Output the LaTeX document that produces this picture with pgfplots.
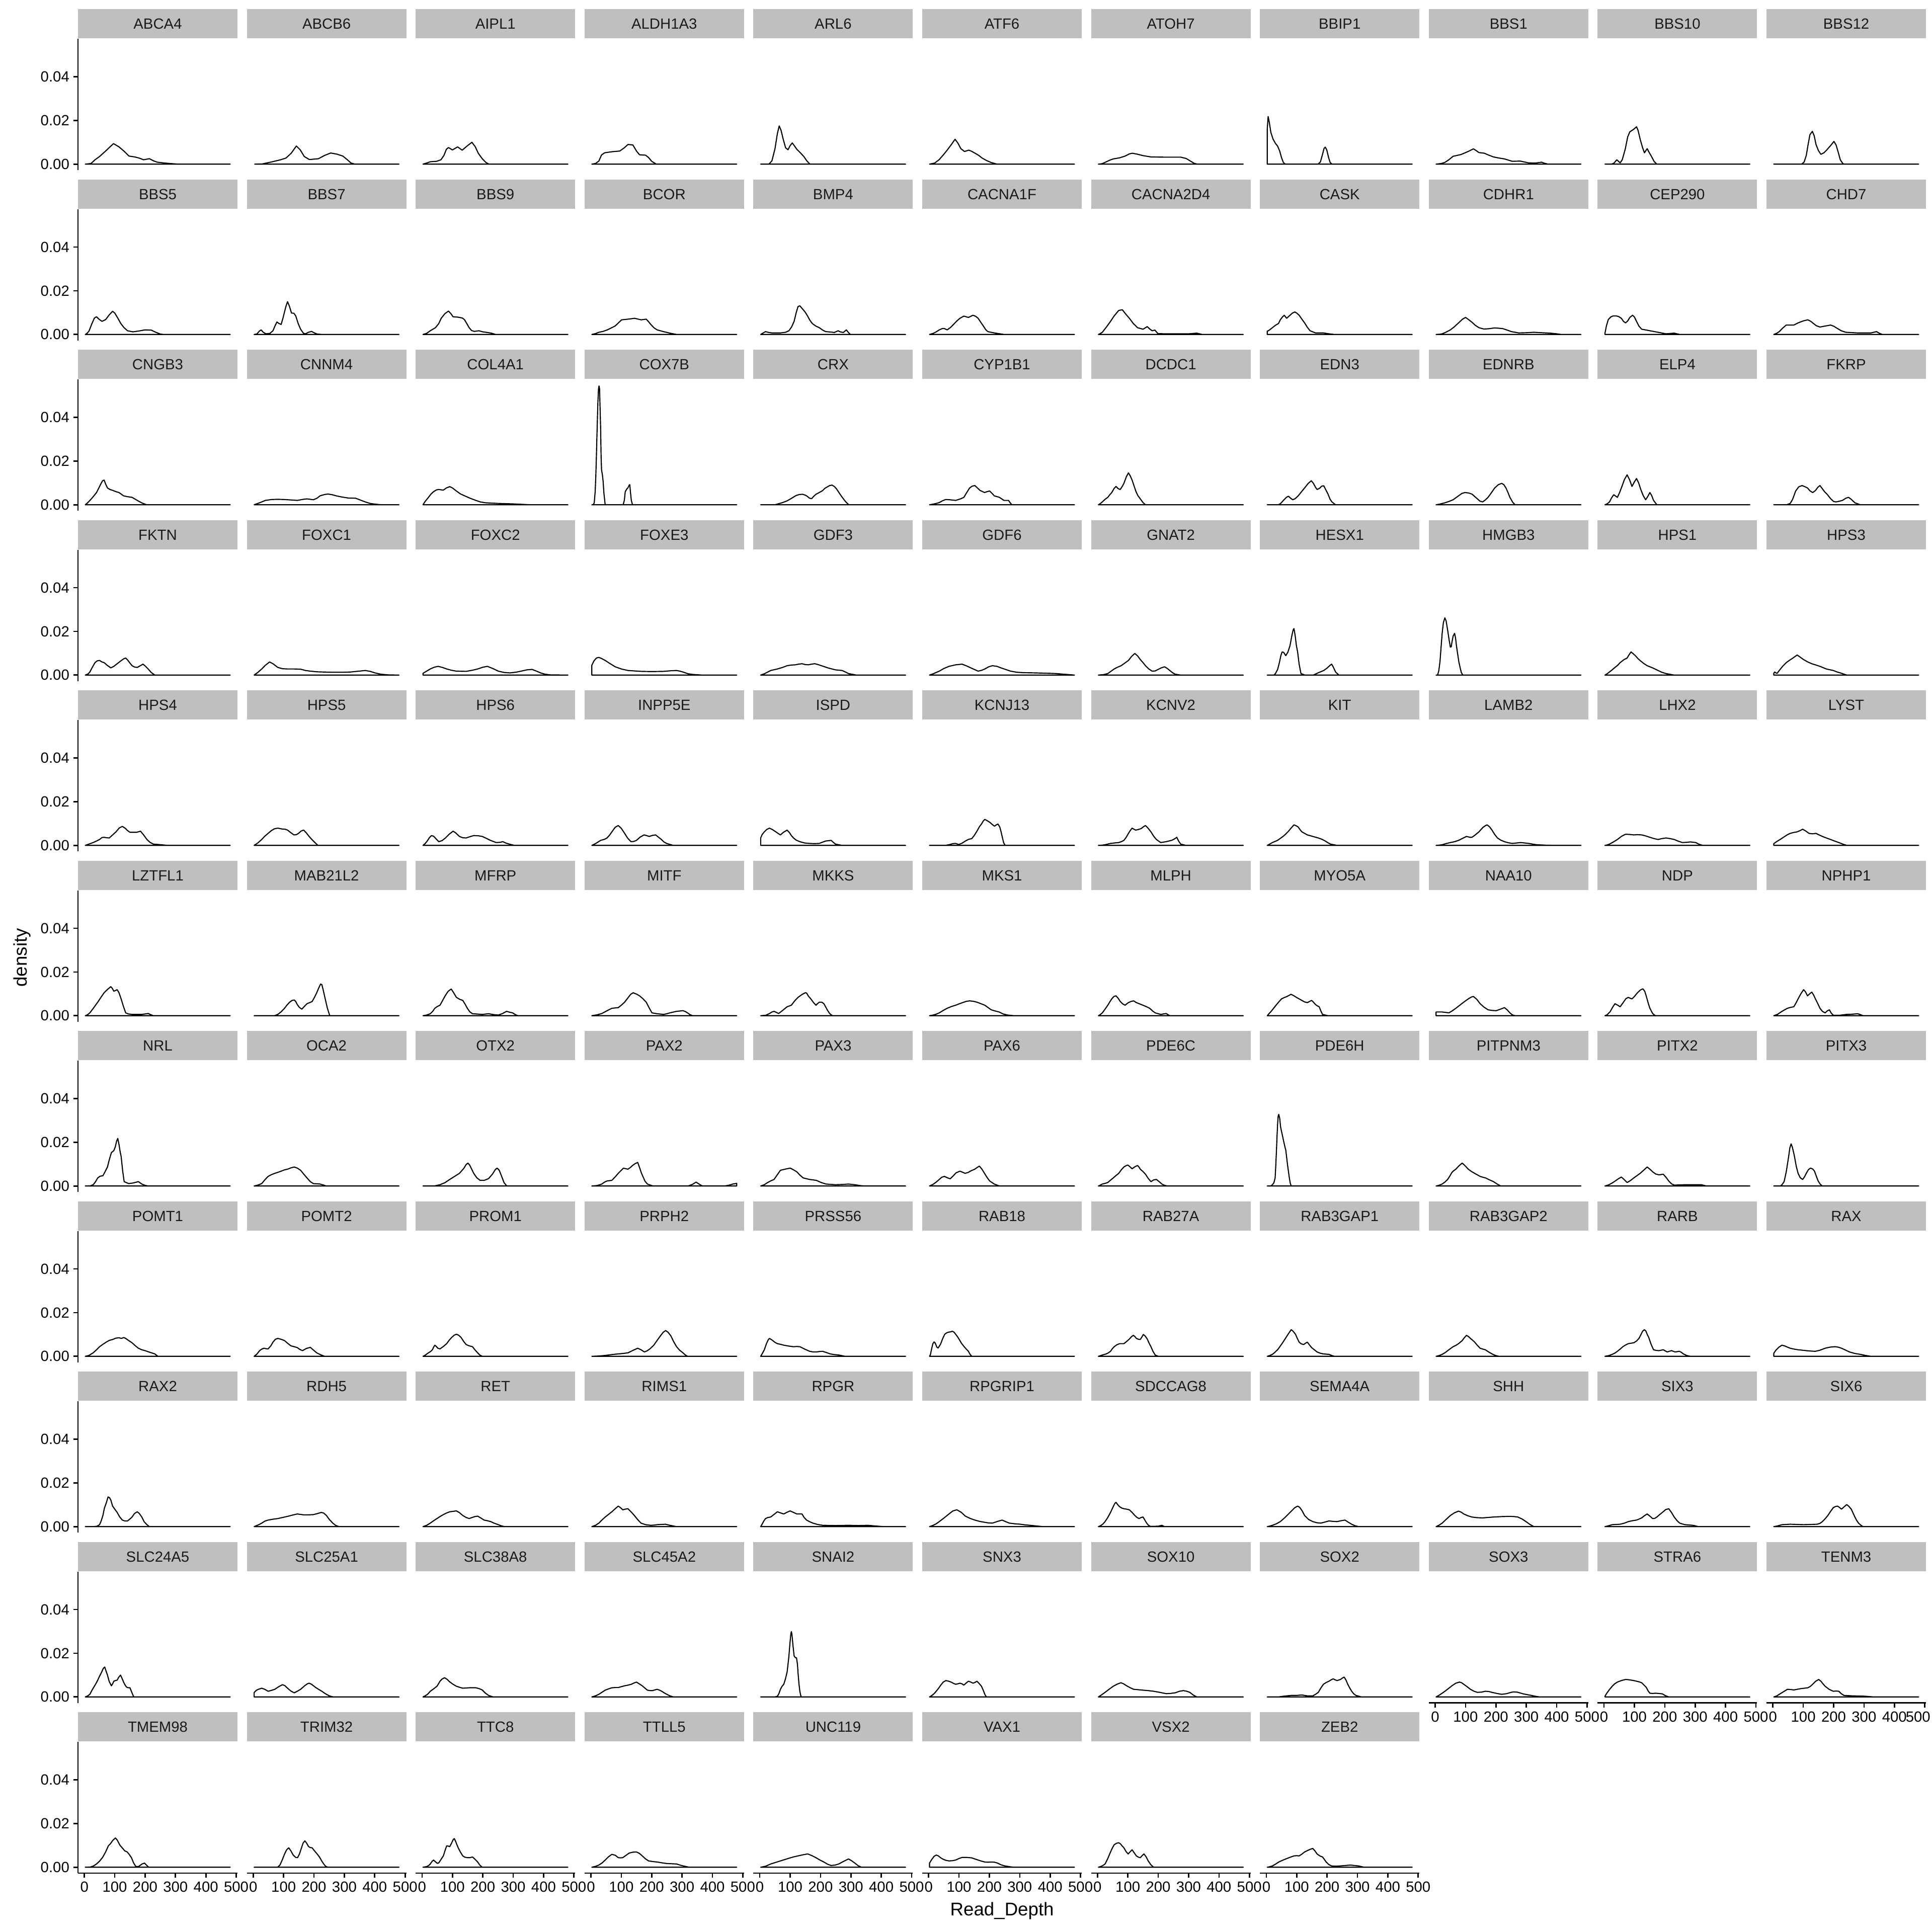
\documentclass[border=0pt]{standalone}
\usepackage{fontspec}
\setmainfont{Liberation Sans}
\usepackage{pgfplots}
\pgfplotsset{compat=1.18}
\definecolor{stripgray}{RGB}{191,191,191}
\definecolor{striptext}{RGB}{26,26,26}
\newcommand{\tsz}{\fontsize{8.8bp}{10bp}\selectfont}
\pgfplotsset{
  every axis title/.style={at={(0.5,1)}, anchor=south, fill=stripgray, text=striptext,
     minimum width=95.1bp, minimum height=17.4bp, inner sep=0pt, text height=6.3bp, text depth=0pt, font=\tsz},
  panel/.style={scale only axis, width=95.1bp, height=78.3bp,
     xmin=-21, xmax=504, ymin=-0.0027, ymax=0.0574,
     axis lines*=left,
     x axis line style={draw=none,-}, y axis line style={draw=none,-},
     xtick=\empty, ytick=\empty,
     anchor=north west, clip=false,
     tick align=outside, major tick length=2.75bp,
     tick style={black, line width=0.8bp}},
  pos/.style 2 args={at={({46.5bp+(#2-1)*100.68bp},{-23.1bp-(#1-1)*101.55bp})}},
  yax/.style={ytick={0,0.02,0.04}, yticklabels={0.00,0.02,0.04},
     y axis line style={draw=black,line width=0.8bp},
     yticklabel style={font=\tsz, inner sep=0pt, text=black}, yticklabel shift=2.2bp},
  xax/.style={xtick={0,100,200,300,400,500}, xticklabels={0,100,200,300,400,500},
     x axis line style={draw=black,line width=0.8bp},
     xticklabel style={font=\tsz, inner sep=0pt, text=black}, xticklabel shift=2.2bp},
  curve/.style={black, line width=0.65bp, line join=round, mark=none},
}
\begin{document}
\begin{tikzpicture}
\path[use as bounding box] (0,0) rectangle (1152bp,-1152bp);
% ---------------- Row 1
\begin{axis}[panel,pos={1}{1},yax,title={ABCA4}]
\addplot[curve] coordinates {(3,0)(22,0.0003)(35,0.002)(50,0.0035)(70,0.006)(85,0.008)(96,0.0094)(114,0.0079)(130,0.006)(147,0.0037)(166,0.0033)(180,0.0028)(195,0.002)(214,0.0025)(228,0.0015)(240,0.0009)(265,0.0005)(290,0.0002)(310,0)(480,0)} --cycle;
\end{axis}
\begin{axis}[panel,pos={1}{2},title={ABCB6}]
\addplot[curve] coordinates {(5,0)(30,0.0001)(60,0.001)(90,0.002)(108,0.0028)(125,0.005)(142,0.0083)(155,0.0065)(168,0.0035)(185,0.0021)(215,0.0025)(235,0.004)(255,0.0051)(275,0.0046)(295,0.0037)(310,0.002)(322,0.0005)(335,0)(480,0)} --cycle;
\end{axis}
\begin{axis}[panel,pos={1}{3},title={AIPL1}]
\addplot[curve] coordinates {(3,0)(15,0.0005)(27,0.0011)(48,0.0013)(62,0.002)(72,0.004)(80,0.0068)(87,0.0076)(100,0.0065)(117,0.0079)(132,0.0064)(150,0.0085)(164,0.0100)(175,0.008)(185,0.005)(198,0.0025)(210,0.0008)(220,0)(480,0)} --cycle;
\end{axis}
\begin{axis}[panel,pos={1}{4},title={ALDH1A3}]
\addplot[curve] coordinates {(3,0)(15,0.0003)(26,0.0014)(35,0.0042)(45,0.0052)(70,0.0057)(95,0.006)(110,0.0075)(122,0.009)(138,0.0088)(150,0.006)(160,0.0043)(180,0.0041)(190,0.003)(200,0.0013)(215,0)(480,0)} --cycle;
\end{axis}
\begin{axis}[panel,pos={1}{5},title={ARL6}]
\addplot[curve] coordinates {(3,0)(30,0)(40,0.0015)(50,0.007)(58,0.014)(64,0.0175)(70,0.0155)(77,0.0115)(85,0.0075)(93,0.0066)(100,0.0085)(107,0.0097)(115,0.0082)(122,0.0068)(135,0.005)(145,0.0035)(155,0.0015)(165,0)(480,0)} --cycle;
\end{axis}
\begin{axis}[panel,pos={1}{6},title={ATF6}]
\addplot[curve] coordinates {(3,0)(20,0.0005)(35,0.0021)(50,0.0045)(61,0.0064)(75,0.009)(87,0.0114)(97,0.0095)(106,0.0071)(118,0.0058)(132,0.0064)(140,0.006)(153,0.005)(165,0.004)(175,0.0029)(190,0.0017)(205,0.0008)(225,0)(480,0)} --cycle;
\end{axis}
\begin{axis}[panel,pos={1}{7},title={ATOH7}]
\addplot[curve] coordinates {(3,0)(15,0.0002)(25,0.0008)(40,0.0018)(52,0.0024)(73,0.0029)(91,0.0037)(105,0.0047)(115,0.005)(130,0.0046)(150,0.0039)(176,0.0033)(220,0.0032)(274,0.0032)(292,0.0026)(306,0.0014)(318,0.0004)(328,0)(480,0)} --cycle;
\end{axis}
\begin{axis}[panel,pos={1}{8},title={BBIP1}]
\addplot[curve] coordinates {(3,0)(3,0.016)(6,0.0218)(10,0.019)(15,0.0145)(22,0.0115)(30,0.0095)(37,0.0083)(44,0.006)(50,0.003)(56,0.0008)(62,0)(170,0)(178,0.001)(185,0.0045)(190,0.0072)(194,0.0078)(199,0.0065)(205,0.003)(210,0.0008)(216,0)(480,0)} --cycle;
\end{axis}
\begin{axis}[panel,pos={1}{9},title={BBS1}]
\addplot[curve] coordinates {(3,0)(20,0.0003)(32,0.0008)(45,0.002)(59,0.0036)(85,0.0044)(107,0.0057)(126,0.007)(135,0.0062)(144,0.0053)(162,0.005)(175,0.0042)(192,0.0033)(210,0.0028)(228,0.0024)(254,0.0013)(280,0.0014)(307,0.0006)(330,0.0005)(350,0.0009)(360,0.0004)(372,0)(480,0)} --cycle;
\end{axis}
\begin{axis}[panel,pos={1}{10},title={BBS10}]
\addplot[curve] coordinates {(3,0)(25,0)(33,0.0005)(42,0.002)(46,0.0015)(53,0.0006)(60,0.002)(70,0.007)(78,0.0125)(85,0.0148)(98,0.016)(107,0.0171)(112,0.0155)(119,0.0114)(127,0.0075)(133,0.0052)(142,0.0071)(148,0.0055)(156,0.0036)(165,0.0012)(174,0)(480,0)} --cycle;
\end{axis}
\begin{axis}[panel,pos={1}{11},title={BBS12}]
\addplot[curve] coordinates {(3,0)(95,0)(103,0.001)(110,0.004)(116,0.009)(122,0.0135)(130,0.015)(136,0.013)(142,0.009)(150,0.0062)(158,0.0045)(168,0.0052)(178,0.0066)(190,0.0085)(201,0.0104)(208,0.0088)(215,0.0055)(222,0.002)(230,0.0003)(235,0)(480,0)} --cycle;
\end{axis}
% ---------------- Row 2
\begin{axis}[panel,pos={2}{1},yax,title={BBS5}]
\addplot[curve] coordinates {(3,0)(8,0.0004)(15,0.0015)(25,0.005)(33,0.0075)(40,0.0081)(48,0.007)(58,0.006)(70,0.0068)(82,0.009)(93,0.0106)(100,0.0098)(110,0.0075)(120,0.005)(130,0.0032)(142,0.0017)(160,0.0012)(180,0.0016)(200,0.0021)(220,0.002)(235,0.001)(250,0.0002)(260,0)(480,0)} --cycle;
\end{axis}
\begin{axis}[panel,pos={2}{2},title={BBS7}]
\addplot[curve] coordinates {(3,0)(12,0.0002)(20,0.0015)(26,0.0021)(33,0.001)(42,0.0003)(55,0.0005)(65,0.0017)(72,0.004)(78,0.0057)(85,0.005)(92,0.0046)(98,0.0075)(103,0.0103)(108,0.013)(113,0.015)(119,0.013)(126,0.0098)(134,0.0097)(140,0.0085)(148,0.005)(156,0.0024)(165,0.0006)(172,0.0003)(182,0.001)(192,0.0014)(200,0.0008)(210,0.0002)(226,0)(480,0)} --cycle;
\end{axis}
\begin{axis}[panel,pos={2}{3},title={BBS9}]
\addplot[curve] coordinates {(3,0)(15,0.0005)(27,0.0017)(44,0.0031)(55,0.005)(63,0.0074)(75,0.0095)(87,0.0107)(95,0.0095)(102,0.0081)(113,0.008)(123,0.0078)(133,0.0075)(140,0.0067)(148,0.0048)(155,0.0031)(163,0.0018)(172,0.0014)(187,0.0017)(200,0.0012)(215,0.0009)(228,0.0006)(242,0)(480,0)} --cycle;
\end{axis}
\begin{axis}[panel,pos={2}{4},title={BCOR}]
\addplot[curve] coordinates {(3,0)(15,0.0004)(26,0.001)(40,0.0014)(54,0.0021)(67,0.003)(80,0.0039)(92,0.0055)(101,0.0067)(122,0.007)(144,0.0074)(165,0.0067)(182,0.007)(190,0.0058)(197,0.0046)(208,0.003)(218,0.0021)(239,0.0013)(260,0.0006)(282,0)(480,0)} --cycle;
\end{axis}
\begin{axis}[panel,pos={2}{5},title={BMP4}]
\addplot[curve] coordinates {(3,0)(10,0.0006)(19,0.0013)(30,0.0009)(40,0.0007)(68,0.0007)(85,0.001)(96,0.0017)(105,0.0035)(113,0.006)(120,0.01)(126,0.0128)(132,0.0131)(140,0.0118)(148,0.0105)(156,0.0088)(165,0.0065)(173,0.005)(185,0.0038)(196,0.0031)(207,0.002)(217,0.0013)(235,0.0011)(245,0.0009)(258,0.0017)(265,0.0012)(275,0.0009)(285,0.0021)(290,0.0012)(298,0)(480,0)} --cycle;
\end{axis}
\begin{axis}[panel,pos={2}{6},title={CACNA1F}]
\addplot[curve] coordinates {(3,0)(15,0.0005)(25,0.0012)(35,0.0021)(45,0.0027)(52,0.0027)(61,0.0021)(72,0.0032)(82,0.0046)(93,0.0062)(103,0.0074)(116,0.0084)(131,0.0078)(146,0.0088)(155,0.0083)(163,0.0074)(172,0.0055)(180,0.0039)(188,0.0022)(195,0.0013)(216,0.0007)(235,0.0003)(248,0)(480,0)} --cycle;
\end{axis}
\begin{axis}[panel,pos={2}{7},title={CACNA2D4}]
\addplot[curve] coordinates {(3,0)(8,0.0003)(16,0.001)(30,0.0035)(43,0.006)(55,0.0085)(70,0.011)(82,0.0113)(92,0.0095)(105,0.0074)(118,0.005)(132,0.0031)(150,0.0024)(164,0.0036)(172,0.0025)(180,0.0017)(189,0.002)(199,0.0004)(220,0.0003)(300,0.0003)(327,0.0006)(345,0)(480,0)} --cycle;
\end{axis}
\begin{axis}[panel,pos={2}{8},title={CASK}]
\addplot[curve] coordinates {(3,0)(3,0.0015)(8,0.0018)(20,0.0031)(30,0.0042)(40,0.005)(46,0.0067)(53,0.008)(59,0.0088)(67,0.0074)(78,0.0088)(86,0.0098)(94,0.0103)(100,0.0098)(108,0.0088)(117,0.007)(126,0.0053)(135,0.0033)(144,0.0017)(162,0.0007)(188,0.0007)(206,0.0003)(224,0)(480,0)} --cycle;
\end{axis}
\begin{axis}[panel,pos={2}{9},title={CDHR1}]
\addplot[curve] coordinates {(3,0)(15,0.0001)(23,0.0003)(35,0.001)(50,0.0021)(63,0.0035)(77,0.0053)(90,0.007)(100,0.0078)(110,0.0068)(121,0.0056)(132,0.0042)(144,0.0031)(160,0.0025)(175,0.0026)(196,0.003)(222,0.0027)(237,0.002)(251,0.0013)(275,0.0007)(300,0.0008)(325,0.001)(350,0.0008)(379,0.0006)(400,0.0003)(415,0)(480,0)} --cycle;
\end{axis}
\begin{axis}[panel,pos={2}{10},title={CEP290}]
\addplot[curve] coordinates {(3,0)(3,0.0005)(8,0.004)(14,0.0068)(22,0.008)(30,0.0085)(40,0.0085)(48,0.0082)(57,0.0074)(64,0.006)(71,0.0053)(78,0.0062)(85,0.0078)(94,0.0088)(100,0.008)(107,0.006)(115,0.0038)(124,0.0024)(140,0.002)(151,0.0017)(178,0.001)(204,0.0003)(231,0.0006)(249,0)(480,0)} --cycle;
\end{axis}
\begin{axis}[panel,pos={2}{11},title={CHD7}]
\addplot[curve] coordinates {(3,0)(12,0.0005)(21,0.0013)(33,0.003)(44,0.0043)(69,0.0043)(83,0.0053)(100,0.0062)(115,0.0067)(125,0.006)(131,0.0053)(143,0.004)(155,0.0034)(170,0.0038)(190,0.0043)(200,0.0038)(213,0.0027)(225,0.0017)(240,0.001)(279,0.0007)(323,0.0007)(341,0.0013)(350,0.0006)(360,0)(480,0)} --cycle;
\end{axis}
% ---------------- Row 3
\begin{axis}[panel,pos={3}{1},yax,title={CNGB3}]
\addplot[curve] coordinates {(3,0)(10,0.0008)(23,0.0027)(32,0.0042)(40,0.0056)(47,0.0075)(54,0.0095)(60,0.011)(65,0.0113)(70,0.0095)(76,0.0077)(84,0.007)(93,0.0066)(104,0.006)(114,0.0056)(122,0.0048)(129,0.0041)(142,0.0037)(157,0.0034)(168,0.0025)(178,0.0017)(190,0.0008)(205,0)(480,0)} --cycle;
\end{axis}
\begin{axis}[panel,pos={3}{2},title={CNNM4}]
\addplot[curve] coordinates {(3,0)(15,0.0006)(28,0.0013)(40,0.002)(60,0.0024)(80,0.0025)(103,0.0024)(125,0.0022)(145,0.002)(165,0.0025)(177,0.0027)(198,0.0023)(210,0.003)(220,0.0041)(235,0.0047)(246,0.0049)(260,0.0046)(273,0.0041)(290,0.0036)(312,0.0031)(337,0.003)(352,0.0022)(369,0.0013)(385,0.0006)(401,0.0003)(422,0)(480,0)} --cycle;
\end{axis}
\begin{axis}[panel,pos={3}{3},title={COL4A1}]
\addplot[curve] coordinates {(3,0)(10,0.0015)(21,0.0034)(30,0.005)(38,0.006)(47,0.0068)(55,0.007)(70,0.0067)(80,0.0077)(91,0.0083)(100,0.0077)(113,0.0063)(126,0.005)(140,0.0041)(158,0.003)(177,0.002)(192,0.0013)(209,0.0009)(252,0.0006)(300,0.0004)(358,0)(480,0)} --cycle;
\end{axis}
\begin{axis}[panel,pos={3}{4},title={COX7B}]
\addplot[curve] coordinates {(3,0)(8,0)(11,0.001)(14,0.006)(16,0.0125)(18,0.022)(20.5,0.035)(23,0.047)(25,0.053)(26.7,0.0544)(28.5,0.053)(30,0.045)(32,0.035)(33.5,0.022)(35,0.016)(38,0.0135)(40,0.011)(43,0.005)(47,0)(106,0)(110,0.002)(113,0.006)(118,0.0072)(122,0.0078)(126,0.009)(128,0.0092)(130,0.006)(133,0.002)(137,0)(480,0)} --cycle;
\end{axis}
\begin{axis}[panel,pos={3}{5},title={CRX}]
\addplot[curve] coordinates {(3,0)(50,0)(60,0.0004)(75,0.001)(90,0.0018)(105,0.003)(119,0.0042)(130,0.0047)(141,0.0048)(150,0.0044)(156,0.0039)(164,0.003)(171,0.0028)(177,0.0038)(185,0.0048)(197,0.0057)(207,0.0065)(215,0.0076)(230,0.0088)(238,0.009)(246,0.0083)(253,0.0072)(262,0.0053)(271,0.0035)(282,0.0015)(293,0)(480,0)} --cycle;
\end{axis}
\begin{axis}[panel,pos={3}{6},title={CYP1B1}]
\addplot[curve] coordinates {(3,0)(15,0.0003)(25,0.0006)(35,0.001)(45,0.0018)(56,0.0024)(70,0.0023)(89,0.002)(105,0.0027)(116,0.0034)(125,0.0055)(135,0.0077)(143,0.0085)(152,0.0088)(160,0.0078)(169,0.0066)(184,0.0056)(192,0.006)(201,0.0063)(209,0.0052)(216,0.0041)(233,0.0034)(248,0.002)(263,0.002)(268,0.001)(274,0)(480,0)} --cycle;
\end{axis}
\begin{axis}[panel,pos={3}{7},title={DCDC1}]
\addplot[curve] coordinates {(3,0)(8,0.0004)(16,0.0013)(25,0.0025)(34,0.0034)(40,0.0045)(47,0.0056)(55,0.0075)(61,0.0084)(68,0.0074)(75,0.007)(82,0.0085)(87,0.0098)(95,0.0128)(102,0.0146)(108,0.0132)(114,0.0113)(120,0.0088)(126,0.0063)(133,0.0042)(141,0.0027)(150,0.001)(158,0)(480,0)} --cycle;
\end{axis}
\begin{axis}[panel,pos={3}{8},title={EDN3}]
\addplot[curve] coordinates {(3,0)(40,0)(47,0.0006)(55,0.0018)(61,0.0027)(67,0.0035)(73,0.0039)(80,0.003)(87,0.0023)(95,0.0028)(105,0.0041)(116,0.006)(126,0.0077)(138,0.0098)(148,0.011)(155,0.0098)(162,0.008)(167,0.007)(175,0.0075)(182,0.0085)(189,0.0087)(196,0.0068)(203,0.0049)(210,0.0025)(216,0.0013)(228,0)(480,0)} --cycle;
\end{axis}
\begin{axis}[panel,pos={3}{9},title={EDNRB}]
\addplot[curve] coordinates {(3,0)(15,0.0003)(32,0.0009)(45,0.0015)(59,0.0023)(68,0.0032)(77,0.0041)(88,0.0052)(98,0.0056)(110,0.0054)(121,0.0049)(130,0.0038)(139,0.0027)(147,0.0017)(156,0.0013)(165,0.0022)(174,0.0034)(185,0.0055)(196,0.0077)(208,0.0092)(219,0.0098)(226,0.0092)(233,0.0077)(240,0.0055)(246,0.0034)(255,0.0012)(263,0)(480,0)} --cycle;
\end{axis}
\begin{axis}[panel,pos={3}{10},title={ELP4}]
\addplot[curve] coordinates {(3,0)(10,0.0004)(18,0.0013)(25,0.0032)(32,0.0046)(38,0.004)(44,0.0034)(51,0.0055)(59,0.0084)(67,0.0115)(76,0.0137)(84,0.0115)(92,0.0084)(100,0.0105)(107,0.012)(114,0.01)(121,0.007)(129,0.0042)(137,0.0023)(144,0.0038)(151,0.0056)(157,0.0042)(163,0.002)(174,0)(480,0)} --cycle;
\end{axis}
\begin{axis}[panel,pos={3}{11},title={FKRP}]
\addplot[curve] coordinates {(3,0)(45,0)(57,0.0006)(65,0.0025)(75,0.0063)(85,0.0082)(96,0.0088)(105,0.0083)(114,0.0077)(122,0.0064)(131,0.0056)(140,0.0065)(148,0.008)(155,0.0088)(162,0.0075)(170,0.006)(178,0.0049)(190,0.0028)(200,0.0015)(208,0.0013)(218,0.0016)(229,0.002)(240,0.003)(249,0.0034)(258,0.0025)(270,0.0009)(288,0)(480,0)} --cycle;
\end{axis}
% ---------------- Row 4
\begin{axis}[panel,pos={4}{1},yax,title={FKTN}]
\addplot[curve] coordinates {(3,0)(12,0.0005)(18,0.0014)(26,0.0035)(35,0.0057)(42,0.0065)(50,0.0067)(58,0.006)(65,0.0057)(75,0.0045)(87,0.0033)(97,0.004)(108,0.0052)(120,0.0065)(130,0.0075)(136,0.0078)(143,0.0068)(150,0.0055)(157,0.0043)(165,0.0037)(174,0.0035)(183,0.0042)(193,0.005)(200,0.0042)(210,0.0028)(220,0.0012)(232,0)(480,0)} --cycle;
\end{axis}
\begin{axis}[panel,pos={4}{2},title={FOXC1}]
\addplot[curve] coordinates {(3,0)(15,0.0012)(28,0.0028)(40,0.0045)(54,0.006)(65,0.0052)(81,0.0035)(97,0.0029)(113,0.0028)(135,0.0028)(156,0.0027)(172,0.0021)(188,0.0018)(210,0.0015)(231,0.0014)(260,0.0013)(295,0.0013)(320,0.0014)(348,0.0018)(369,0.0021)(385,0.0017)(401,0.001)(420,0.0004)(444,0.0001)(480,0)} --cycle;
\end{axis}
\begin{axis}[panel,pos={4}{3},title={FOXC2}]
\addplot[curve] coordinates {(3,0)(3,0.0008)(15,0.0018)(27,0.0028)(40,0.0036)(53,0.004)(67,0.0035)(81,0.0028)(97,0.0022)(113,0.0018)(145,0.0017)(165,0.0022)(183,0.0028)(200,0.0036)(215,0.004)(233,0.003)(251,0.0018)(270,0.0012)(289,0.001)(308,0.0013)(326,0.0018)(345,0.0024)(362,0.0026)(377,0.0018)(390,0.001)(405,0.0004)(422,0.0001)(480,0)} --cycle;
\end{axis}
\begin{axis}[panel,pos={4}{4},title={FOXE3}]
\addplot[curve] coordinates {(3,0)(3,0.0045)(10,0.0065)(18,0.0078)(26,0.0081)(35,0.0076)(47,0.0067)(60,0.0055)(80,0.0038)(100,0.0028)(122,0.0021)(165,0.0017)(200,0.0016)(239,0.0017)(265,0.002)(282,0.0021)(293,0.0018)(303,0.0014)(320,0.0006)(335,0.0003)(367,0)(480,0)} --cycle;
\end{axis}
\begin{axis}[panel,pos={4}{5},title={GDF3}]
\addplot[curve] coordinates {(3,0)(15,0.0006)(25,0.0013)(36,0.0021)(58,0.0028)(75,0.0035)(90,0.0043)(104,0.0046)(117,0.0047)(128,0.005)(139,0.0052)(150,0.0048)(160,0.0047)(170,0.005)(181,0.0052)(192,0.0048)(203,0.0043)(224,0.0033)(249,0.0024)(271,0.0021)(282,0.0014)(292,0.0007)(318,0)(480,0)} --cycle;
\end{axis}
\begin{axis}[panel,pos={4}{6},title={GDF6}]
\addplot[curve] coordinates {(3,0)(15,0.0006)(35,0.0018)(50,0.003)(67,0.004)(89,0.0047)(110,0.005)(125,0.0042)(142,0.0031)(163,0.0018)(175,0.0022)(185,0.0028)(198,0.0038)(210,0.0043)(225,0.004)(238,0.0033)(255,0.0025)(270,0.0018)(290,0.0013)(313,0.0011)(350,0.001)(377,0.0009)(400,0.0008)(419,0.0007)(445,0.0004)(472,0.0001)(480,0)} --cycle;
\end{axis}
\begin{axis}[panel,pos={4}{7},title={GNAT2}]
\addplot[curve] coordinates {(3,0)(20,0.0002)(34,0.0007)(45,0.0018)(55,0.0028)(66,0.0036)(78,0.0043)(90,0.0055)(102,0.0067)(112,0.0085)(123,0.0099)(132,0.0088)(141,0.0071)(150,0.0057)(158,0.0043)(169,0.0028)(180,0.0018)(190,0.0019)(197,0.0024)(210,0.0033)(221,0.0038)(230,0.003)(238,0.0021)(247,0.0011)(256,0.0004)(274,0)(480,0)} --cycle;
\end{axis}
\begin{axis}[panel,pos={4}{8},title={HESX1}]
\addplot[curve] coordinates {(3,0)(25,0)(30,0.0007)(37,0.0025)(43,0.0057)(48,0.009)(52,0.0106)(57,0.0104)(64,0.0089)(71,0.0105)(78,0.0135)(84,0.018)(88,0.0205)(91,0.0213)(95,0.018)(99,0.0135)(103,0.0106)(108,0.005)(114,0.0007)(127,0)(155,0)(170,0.001)(189,0.0021)(200,0.0032)(210,0.0045)(215,0.005)(220,0.0038)(228,0.0014)(239,0)(480,0)} --cycle;
\end{axis}
\begin{axis}[panel,pos={4}{9},title={HMGB3}]
\addplot[curve] coordinates {(3,0)(8,0)(12,0.002)(16,0.0064)(19,0.012)(23,0.0191)(27,0.024)(32,0.0262)(36,0.0248)(41,0.0206)(46,0.016)(50,0.0128)(53,0.013)(55,0.0149)(59,0.0178)(64,0.0191)(67,0.017)(70,0.0135)(73,0.0106)(78,0.006)(82,0.0035)(86,0.0012)(91,0)(480,0)} --cycle;
\end{axis}
\begin{axis}[panel,pos={4}{10},title={HPS1}]
\addplot[curve] coordinates {(3,0)(8,0.0004)(14,0.001)(25,0.0022)(36,0.0035)(45,0.0045)(53,0.0057)(66,0.0071)(76,0.0078)(82,0.0092)(89,0.0106)(95,0.0099)(103,0.0089)(112,0.0075)(121,0.0064)(132,0.0052)(142,0.0043)(160,0.0033)(178,0.0021)(190,0.0013)(204,0.0007)(231,0)(480,0)} --cycle;
\end{axis}
\begin{axis}[panel,pos={4}{11},title={HPS3}]
\addplot[curve] coordinates {(3,0)(3,0.0008)(6,0.0014)(10,0.001)(14,0.0008)(21,0.0021)(32,0.004)(44,0.0057)(55,0.0068)(66,0.0078)(80,0.0092)(90,0.0082)(101,0.0071)(115,0.006)(128,0.0052)(142,0.0046)(155,0.004)(176,0.0028)(199,0.0021)(212,0.0014)(222,0.001)(243,0)(480,0)} --cycle;
\end{axis}
% ---------------- Row 5
\begin{axis}[panel,pos={5}{1},yax,title={HPS4}]
\addplot[curve] coordinates {(3,0)(15,0.0006)(29,0.0013)(40,0.002)(50,0.0027)(58,0.0036)(65,0.0037)(73,0.0035)(82,0.0034)(93,0.0048)(104,0.0062)(115,0.008)(125,0.0087)(135,0.0078)(142,0.0068)(150,0.006)(160,0.006)(172,0.006)(185,0.0065)(195,0.0048)(206,0.0027)(216,0.0014)(227,0.0006)(253,0.0003)(274,0)(480,0)} --cycle;
\end{axis}
\begin{axis}[panel,pos={5}{2},title={HPS5}]
\addplot[curve] coordinates {(3,0)(15,0.0011)(28,0.0027)(38,0.0042)(49,0.0055)(60,0.0068)(70,0.0076)(81,0.0079)(95,0.0075)(105,0.0074)(113,0.007)(124,0.0058)(134,0.0048)(142,0.0049)(149,0.0055)(158,0.0066)(166,0.007)(175,0.0057)(184,0.0041)(191,0.003)(198,0.002)(206,0.0009)(213,0)(480,0)} --cycle;
\end{axis}
\begin{axis}[panel,pos={5}{3},title={HPS6}]
\addplot[curve] coordinates {(3,0)(10,0.0008)(17,0.002)(24,0.0035)(31,0.0045)(38,0.0042)(46,0.003)(55,0.0017)(66,0.0022)(77,0.0034)(90,0.0052)(102,0.0065)(110,0.0058)(123,0.0041)(134,0.0035)(145,0.0034)(158,0.004)(170,0.0045)(185,0.0044)(198,0.0041)(212,0.0032)(225,0.0023)(244,0.0013)(256,0.0014)(266,0.0017)(277,0.001)(287,0.0006)(304,0)(480,0)} --cycle;
\end{axis}
\begin{axis}[panel,pos={5}{4},title={INPP5E}]
\addplot[curve] coordinates {(3,0)(15,0.0008)(32,0.0023)(45,0.0028)(53,0.0034)(62,0.0048)(69,0.0062)(80,0.0083)(90,0.0091)(100,0.0078)(111,0.0055)(121,0.0033)(132,0.0017)(141,0.0018)(150,0.0023)(162,0.0038)(175,0.0048)(183,0.0045)(192,0.0041)(203,0.0046)(213,0.0048)(222,0.0038)(232,0.0027)(240,0.0016)(249,0.0009)(271,0)(480,0)} --cycle;
\end{axis}
\begin{axis}[panel,pos={5}{5},title={ISPD}]
\addplot[curve] coordinates {(3,0)(3,0.0034)(8,0.005)(15,0.0062)(23,0.0073)(32,0.0079)(42,0.0072)(53,0.0062)(60,0.0055)(68,0.0048)(78,0.006)(90,0.007)(98,0.0058)(104,0.0045)(111,0.0034)(120,0.0024)(132,0.0017)(148,0.0011)(164,0.0009)(180,0.0008)(196,0.0009)(207,0.0015)(217,0.002)(235,0.0023)(242,0.0014)(249,0.0006)(271,0)(480,0)} --cycle;
\end{axis}
\begin{axis}[panel,pos={5}{6},title={KCNJ13}]
\addplot[curve] coordinates {(3,0)(55,0)(67,0.0003)(80,0.0008)(89,0.0009)(99,0.0004)(110,0.001)(121,0.002)(132,0.0028)(142,0.0031)(150,0.0045)(159,0.0065)(167,0.0085)(174,0.0098)(180,0.0112)(185,0.0119)(193,0.0113)(202,0.0105)(210,0.0095)(217,0.0088)(223,0.0094)(228,0.0098)(234,0.0085)(238,0.0065)(243,0.0035)(247,0.0012)(252,0)(480,0)} --cycle;
\end{axis}
\begin{axis}[panel,pos={5}{7},title={KCNV2}]
\addplot[curve] coordinates {(3,0)(15,0.0001)(25,0.0003)(43,0.0009)(55,0.0011)(70,0.0013)(80,0.0018)(87,0.0023)(95,0.0038)(102,0.0055)(108,0.0068)(114,0.0079)(120,0.0074)(126,0.007)(135,0.0073)(144,0.0077)(151,0.0085)(158,0.0091)(167,0.0078)(176,0.0062)(185,0.0042)(194,0.0027)(208,0.0013)(226,0.0017)(244,0.0023)(254,0.003)(261,0.0037)(267,0.002)(274,0.0006)(291,0)(480,0)} --cycle;
\end{axis}
\begin{axis}[panel,pos={5}{8},title={KIT}]
\addplot[curve] coordinates {(3,0)(10,0.0005)(20,0.0013)(37,0.0023)(46,0.0032)(55,0.0041)(64,0.0052)(73,0.0065)(82,0.008)(91,0.0094)(98,0.009)(105,0.0084)(111,0.0072)(117,0.0062)(126,0.0055)(135,0.0048)(153,0.0041)(171,0.0034)(183,0.0028)(194,0.002)(203,0.0012)(211,0.0006)(233,0)(480,0)} --cycle;
\end{axis}
\begin{axis}[panel,pos={5}{9},title={LAMB2}]
\addplot[curve] coordinates {(3,0)(12,0.0001)(23,0.0003)(35,0.0008)(50,0.0013)(64,0.0017)(77,0.0023)(90,0.0032)(103,0.0041)(115,0.0037)(121,0.0037)(132,0.0048)(144,0.0062)(157,0.0082)(165,0.009)(171,0.0094)(179,0.0085)(187,0.007)(196,0.005)(205,0.0034)(216,0.0024)(228,0.0017)(241,0.0012)(254,0.0009)(268,0.0011)(281,0.0013)(295,0.0011)(308,0.0009)(320,0.0006)(334,0.0003)(365,0.0001)(397,0)(480,0)} --cycle;
\end{axis}
\begin{axis}[panel,pos={5}{10},title={LHX2}]
\addplot[curve] coordinates {(3,0)(10,0.0002)(18,0.0006)(30,0.0015)(44,0.0027)(58,0.0042)(71,0.0051)(85,0.005)(98,0.0048)(110,0.0049)(124,0.0048)(138,0.0043)(151,0.0037)(165,0.0031)(178,0.0027)(190,0.0031)(204,0.0034)(218,0.0031)(231,0.0027)(245,0.0019)(258,0.0013)(272,0.0014)(284,0.0016)(302,0.0013)(313,0.0005)(325,0)(480,0)} --cycle;
\end{axis}
\begin{axis}[panel,pos={5}{11},title={LYST}]
\addplot[curve] coordinates {(3,0)(3,0.0008)(12,0.0017)(25,0.0028)(39,0.0041)(48,0.0049)(57,0.0055)(68,0.0059)(80,0.0062)(90,0.0068)(98,0.0074)(108,0.0066)(119,0.0055)(130,0.0053)(142,0.0055)(152,0.0048)(163,0.0041)(176,0.0034)(190,0.0027)(203,0.002)(217,0.0013)(230,0.0006)(243,0)(480,0)} --cycle;
\end{axis}
% ---------------- Row 6
\begin{axis}[panel,pos={6}{1},yax,title={LZTFL1}]
\addplot[curve] coordinates {(3,0)(10,0.0004)(18,0.0013)(30,0.0035)(44,0.0062)(55,0.0085)(65,0.0105)(76,0.012)(87,0.0133)(92,0.0125)(97,0.0112)(102,0.0115)(108,0.0119)(114,0.0105)(121,0.0077)(128,0.0045)(136,0.0013)(145,0.0008)(157,0.0006)(189,0.0006)(200,0.0008)(210,0.001)(218,0.0005)(227,0)(480,0)} --cycle;
\end{axis}
\begin{axis}[panel,pos={6}{2},title={MAB21L2}]
\addplot[curve] coordinates {(3,0)(70,0)(81,0.0006)(92,0.0018)(103,0.0034)(112,0.005)(120,0.0062)(128,0.007)(135,0.0072)(140,0.0065)(145,0.0051)(152,0.0038)(160,0.003)(168,0.0042)(177,0.0055)(186,0.006)(194,0.0065)(202,0.0085)(209,0.0105)(216,0.0128)(222,0.0145)(226,0.0142)(230,0.012)(237,0.0077)(244,0.0035)(252,0)(480,0)} --cycle;
\end{axis}
\begin{axis}[panel,pos={6}{3},title={MFRP}]
\addplot[curve] coordinates {(3,0)(15,0.0003)(27,0.0009)(35,0.002)(42,0.0034)(50,0.0042)(59,0.0048)(67,0.0068)(76,0.0091)(86,0.0112)(96,0.0122)(104,0.0105)(113,0.0084)(124,0.0075)(134,0.007)(142,0.0052)(149,0.0034)(157,0.0018)(166,0.0009)(198,0.0006)(219,0.0009)(236,0.0005)(251,0.0003)(265,0.001)(278,0.002)(288,0.0016)(298,0.0013)(307,0.0005)(315,0)(480,0)} --cycle;
\end{axis}
\begin{axis}[panel,pos={6}{4},title={MITF}]
\addplot[curve] coordinates {(3,0)(20,0.0004)(36,0.001)(52,0.0022)(69,0.0034)(90,0.0037)(100,0.0048)(111,0.0062)(122,0.0082)(131,0.0098)(139,0.0105)(150,0.0099)(160,0.0091)(171,0.0078)(182,0.0062)(192,0.0035)(201,0.0013)(218,0.0009)(239,0.0006)(250,0.0009)(260,0.0013)(282,0.002)(303,0.0023)(311,0.0019)(318,0.0013)(326,0.0005)(335,0)(480,0)} --cycle;
\end{axis}
\begin{axis}[panel,pos={6}{5},title={MKKS}]
\addplot[curve] coordinates {(3,0)(20,0.0002)(32,0.001)(40,0.0017)(47,0.002)(55,0.0015)(62,0.001)(76,0.0025)(90,0.0041)(104,0.0048)(115,0.0068)(126,0.0084)(140,0.0098)(150,0.0105)(154,0.0104)(160,0.009)(168,0.0077)(177,0.006)(185,0.0048)(190,0.0055)(196,0.0062)(204,0.0062)(211,0.0055)(217,0.004)(222,0.0027)(230,0.001)(239,0)(480,0)} --cycle;
\end{axis}
\begin{axis}[panel,pos={6}{6},title={MKS1}]
\addplot[curve] coordinates {(3,0)(15,0.0003)(25,0.0007)(35,0.0013)(48,0.0024)(61,0.0034)(75,0.0042)(89,0.0048)(102,0.0055)(116,0.0062)(125,0.0066)(135,0.0068)(147,0.0066)(159,0.0062)(172,0.0055)(185,0.0048)(196,0.0037)(206,0.0027)(218,0.0022)(232,0.0017)(245,0.0008)(260,0.0003)(281,0)(480,0)} --cycle;
\end{axis}
\begin{axis}[panel,pos={6}{7},title={MLPH}]
\addplot[curve] coordinates {(3,0)(8,0.0004)(16,0.0013)(25,0.003)(34,0.0048)(40,0.0062)(47,0.0077)(54,0.0088)(61,0.0091)(68,0.008)(75,0.0065)(83,0.0054)(91,0.0048)(97,0.0055)(102,0.006)(110,0.0065)(119,0.0068)(128,0.006)(137,0.0055)(146,0.005)(155,0.0045)(163,0.004)(172,0.0034)(181,0.0022)(190,0.0013)(208,0.0006)(226,0.001)(232,0.0005)(238,0)(480,0)} --cycle;
\end{axis}
\begin{axis}[panel,pos={6}{8},title={MYO5A}]
\addplot[curve] coordinates {(3,0)(8,0.0008)(16,0.002)(24,0.0034)(32,0.0048)(41,0.0063)(50,0.0077)(59,0.0083)(68,0.0088)(75,0.0093)(81,0.0098)(90,0.0092)(99,0.0084)(108,0.0077)(117,0.007)(126,0.0063)(135,0.006)(142,0.0065)(149,0.007)(155,0.0062)(162,0.0051)(168,0.0045)(174,0.0041)(180,0.002)(185,0.0006)(203,0)(480,0)} --cycle;
\end{axis}
\begin{axis}[panel,pos={6}{9},title={NAA10}]
\addplot[curve] coordinates {(3,0)(3,0.0017)(15,0.0017)(23,0.0017)(35,0.0015)(45,0.0013)(56,0.0022)(68,0.0034)(81,0.0048)(94,0.0062)(110,0.0078)(120,0.0086)(126,0.0088)(137,0.0075)(148,0.0055)(160,0.004)(174,0.0027)(188,0.0024)(201,0.0023)(215,0.003)(228,0.0037)(237,0.0027)(246,0.0013)(254,0.0004)(263,0)(480,0)} --cycle;
\end{axis}
\begin{axis}[panel,pos={6}{10},title={NDP}]
\addplot[curve] coordinates {(3,0)(10,0.0004)(20,0.0018)(28,0.0038)(36,0.0055)(45,0.0048)(53,0.0041)(62,0.0058)(72,0.0078)(80,0.0084)(86,0.008)(92,0.0077)(100,0.0088)(110,0.0105)(120,0.0118)(128,0.0123)(134,0.0112)(140,0.0085)(146,0.0055)(151,0.0034)(160,0.001)(169,0)(480,0)} --cycle;
\end{axis}
\begin{axis}[panel,pos={6}{11},title={NPHP1}]
\addplot[curve] coordinates {(3,0)(15,0.0006)(30,0.002)(40,0.0028)(48,0.0034)(58,0.0038)(69,0.0041)(76,0.0058)(83,0.0077)(92,0.01)(101,0.0119)(107,0.011)(114,0.0091)(121,0.01)(128,0.0108)(134,0.0095)(140,0.0077)(148,0.0055)(155,0.0034)(163,0.002)(172,0.0013)(179,0.0022)(186,0.0027)(192,0.0012)(199,0.0002)(220,0.0002)(243,0.0006)(262,0.0007)(279,0.0009)(288,0.0005)(297,0)(480,0)} --cycle;
\end{axis}
% ---------------- Row 7
\begin{axis}[panel,pos={7}{1},yax,title={NRL}]
\addplot[curve] coordinates {(3,0)(20,0.0001)(29,0.0006)(36,0.0018)(44,0.0037)(52,0.0045)(61,0.0047)(68,0.0065)(76,0.0087)(82,0.012)(89,0.0153)(97,0.0162)(102,0.018)(106,0.0205)(110,0.0218)(114,0.019)(118,0.0155)(121,0.0136)(126,0.007)(131,0.002)(146,0.0011)(161,0.0014)(178,0.002)(189,0.0009)(200,0.0003)(210,0)(480,0)} --cycle;
\end{axis}
\begin{axis}[panel,pos={7}{2},title={OCA2}]
\addplot[curve] coordinates {(3,0)(15,0.0004)(28,0.0011)(38,0.0028)(49,0.0044)(60,0.0052)(71,0.0058)(82,0.0063)(92,0.0068)(103,0.0074)(113,0.0077)(124,0.0083)(135,0.0087)(145,0.0082)(156,0.0072)(166,0.0055)(177,0.0037)(188,0.002)(198,0.0011)(210,0.001)(220,0.0009)(232,0.0004)(241,0)(480,0)} --cycle;
\end{axis}
\begin{axis}[panel,pos={7}{3},title={OTX2}]
\addplot[curve] coordinates {(3,0)(40,0)(59,0.0006)(75,0.0015)(91,0.003)(107,0.0044)(123,0.0058)(137,0.008)(145,0.0098)(151,0.0105)(157,0.0095)(163,0.0078)(170,0.0058)(180,0.0038)(191,0.0026)(205,0.0026)(219,0.0034)(232,0.0055)(241,0.0075)(247,0.0082)(254,0.0072)(262,0.0044)(270,0.0015)(279,0)(480,0)} --cycle;
\end{axis}
\begin{axis}[panel,pos={7}{4},title={PAX2}]
\addplot[curve] coordinates {(3,0)(20,0.0002)(36,0.0009)(45,0.0018)(53,0.0023)(69,0.0026)(80,0.0042)(90,0.0058)(100,0.0072)(107,0.0082)(115,0.0079)(122,0.0077)(130,0.0085)(137,0.0094)(145,0.0102)(154,0.0108)(160,0.0085)(166,0.006)(171,0.0044)(178,0.0022)(186,0.0009)(200,0.0002)(207,0)(320,0)(335,0.0008)(346,0.0018)(357,0.0008)(367,0)(440,0)(455,0.0004)(467,0.0009)(480,0.0012)(480,0)} --cycle;
\end{axis}
\begin{axis}[panel,pos={7}{5},title={PAX3}]
\addplot[curve] coordinates {(3,0)(15,0.0006)(26,0.0016)(37,0.0024)(47,0.003)(57,0.005)(68,0.0072)(83,0.0077)(100,0.0082)(110,0.0075)(122,0.0065)(132,0.005)(143,0.0037)(164,0.003)(186,0.0026)(202,0.0016)(218,0.0009)(249,0.0006)(270,0.0007)(292,0.0009)(313,0.0006)(330,0.0002)(345,0)(480,0)} --cycle;
\end{axis}
\begin{axis}[panel,pos={7}{6},title={PAX6}]
\addplot[curve] coordinates {(3,0)(15,0.0008)(25,0.0018)(35,0.003)(43,0.004)(52,0.0044)(61,0.0038)(71,0.0033)(80,0.0045)(90,0.006)(103,0.0068)(112,0.0063)(120,0.0058)(130,0.0062)(140,0.007)(152,0.0077)(160,0.0085)(167,0.0091)(175,0.0078)(184,0.0058)(192,0.004)(201,0.0023)(216,0.0009)(233,0)(480,0)} --cycle;
\end{axis}
\begin{axis}[panel,pos={7}{7},title={PDE6C}]
\addplot[curve] coordinates {(3,0)(8,0.0003)(16,0.0009)(25,0.0012)(34,0.0016)(43,0.0027)(52,0.0037)(61,0.0048)(70,0.0058)(79,0.0075)(87,0.0087)(94,0.0093)(100,0.0096)(107,0.0088)(114,0.0079)(123,0.0088)(132,0.0094)(137,0.0086)(141,0.0077)(150,0.0066)(158,0.0054)(167,0.0035)(176,0.002)(185,0.0028)(194,0.003)(203,0.002)(212,0.0009)(221,0.0003)(230,0)(480,0)} --cycle;
\end{axis}
\begin{axis}[panel,pos={7}{8},title={PDE6H}]
\addplot[curve] coordinates {(3,0)(15,0)(20,0.0006)(25,0.0015)(29,0.0037)(31,0.009)(33,0.015)(35,0.022)(37,0.028)(39,0.032)(41,0.0328)(44,0.031)(47,0.027)(50,0.025)(54,0.0225)(57,0.0205)(59,0.0193)(62,0.0175)(64,0.0165)(67,0.013)(70,0.0095)(73,0.0065)(76,0.0035)(79,0.0012)(82,0)(480,0)} --cycle;
\end{axis}
\begin{axis}[panel,pos={7}{9},title={PITPNM3}]
\addplot[curve] coordinates {(3,0)(12,0.0003)(23,0.0009)(32,0.0018)(41,0.003)(48,0.0045)(55,0.0062)(61,0.007)(68,0.0077)(78,0.0092)(89,0.0105)(99,0.0092)(109,0.0077)(120,0.0066)(130,0.0058)(139,0.0051)(148,0.0044)(157,0.004)(166,0.0037)(179,0.0028)(192,0.002)(204,0.0009)(216,0)(480,0)} --cycle;
\end{axis}
\begin{axis}[panel,pos={7}{10},title={PITX2}]
\addplot[curve] coordinates {(3,0)(15,0.0005)(27,0.0014)(37,0.0023)(47,0.0033)(57,0.0041)(66,0.003)(76,0.0016)(87,0.0025)(98,0.0037)(108,0.0047)(119,0.0058)(131,0.0073)(142,0.0087)(151,0.0077)(160,0.0065)(170,0.0055)(181,0.0051)(195,0.0054)(204,0.004)(213,0.0023)(222,0.001)(231,0.0004)(266,0.0006)(300,0.0006)(320,0.0006)(337,0)(480,0)} --cycle;
\end{axis}
\begin{axis}[panel,pos={7}{11},title={PITX3}]
\addplot[curve] coordinates {(3,0)(25,0)(30,0.0006)(37,0.002)(44,0.0065)(48,0.01)(52,0.0136)(56,0.0175)(60,0.0193)(64,0.0178)(68,0.0155)(71,0.0136)(77,0.009)(83,0.0058)(90,0.0038)(98,0.003)(104,0.0042)(110,0.0058)(117,0.0075)(124,0.0082)(131,0.0078)(137,0.0068)(143,0.0045)(149,0.0023)(156,0.0008)(163,0)(480,0)} --cycle;
\end{axis}
% ---------------- Row 8
\begin{axis}[panel,pos={8}{1},yax,title={POMT1}]
\addplot[curve] coordinates {(3,0)(15,0.0004)(29,0.0016)(40,0.003)(50,0.0044)(61,0.0055)(72,0.0065)(82,0.0073)(93,0.0077)(103,0.0083)(114,0.0085)(122,0.0082)(130,0.0086)(136,0.0082)(146,0.0072)(157,0.0062)(168,0.0048)(178,0.0037)(189,0.003)(200,0.0026)(212,0.002)(221,0.0016)(232,0.0011)(242,0)(480,0)} --cycle;
\end{axis}
\begin{axis}[panel,pos={8}{2},title={POMT2}]
\addplot[curve] coordinates {(3,0)(12,0.001)(21,0.0026)(28,0.0033)(35,0.0037)(42,0.0035)(49,0.0034)(58,0.0048)(65,0.0065)(73,0.0078)(81,0.0082)(92,0.0078)(103,0.0072)(113,0.006)(124,0.0048)(135,0.0044)(145,0.004)(153,0.0032)(162,0.0026)(175,0.0036)(188,0.0041)(198,0.0029)(209,0.0016)(222,0.0007)(235,0)(480,0)} --cycle;
\end{axis}
\begin{axis}[panel,pos={8}{3},title={PROM1}]
\addplot[curve] coordinates {(3,0)(10,0.0005)(21,0.0016)(28,0.0022)(34,0.003)(38,0.0042)(42,0.0051)(47,0.0045)(52,0.0037)(59,0.0034)(70,0.0045)(81,0.0058)(90,0.0075)(98,0.0087)(106,0.0097)(113,0.0101)(120,0.0097)(128,0.0087)(137,0.0068)(145,0.0054)(155,0.0048)(166,0.0044)(175,0.0028)(183,0.0016)(190,0.0006)(198,0)(480,0)} --cycle;
\end{axis}
\begin{axis}[panel,pos={8}{4},title={PRPH2}]
\addplot[curve] coordinates {(3,0)(20,0.0001)(40,0.0003)(58,0.0006)(75,0.0009)(90,0.0011)(105,0.0013)(122,0.0016)(138,0.0027)(154,0.0037)(165,0.003)(176,0.002)(185,0.0025)(195,0.0035)(207,0.0051)(218,0.0073)(229,0.0094)(238,0.011)(246,0.0118)(254,0.011)(263,0.0094)(272,0.0068)(282,0.0044)(292,0.0028)(303,0.0016)(310,0.0007)(318,0)(480,0)} --cycle;
\end{axis}
\begin{axis}[panel,pos={8}{5},title={PRSS56}]
\addplot[curve] coordinates {(3,0)(8,0.0012)(15,0.003)(22,0.0058)(28,0.0076)(32,0.0082)(40,0.0075)(50,0.0064)(58,0.0058)(68,0.0055)(79,0.0051)(95,0.0047)(111,0.0044)(122,0.0045)(132,0.0044)(148,0.0033)(164,0.0023)(176,0.002)(186,0.002)(197,0.0022)(207,0.0023)(220,0.0017)(232,0.0011)(245,0.0008)(260,0.0006)(281,0)(480,0)} --cycle;
\end{axis}
\begin{axis}[panel,pos={8}{6},title={RAB18}]
\addplot[curve] coordinates {(3,0)(6,0.0008)(10,0.0035)(14,0.0058)(18,0.0066)(22,0.006)(27,0.0042)(31,0.0038)(36,0.0048)(40,0.0058)(46,0.008)(53,0.0101)(60,0.0108)(67,0.0111)(73,0.0112)(78,0.0115)(84,0.011)(89,0.0101)(95,0.009)(100,0.0079)(108,0.006)(117,0.0044)(124,0.0033)(131,0.0023)(136,0.001)(142,0)(480,0)} --cycle;
\end{axis}
\begin{axis}[panel,pos={8}{7},title={RAB27A}]
\addplot[curve] coordinates {(3,0)(8,0.0002)(16,0.0006)(29,0.0011)(36,0.0016)(43,0.0023)(49,0.0035)(55,0.0044)(64,0.0053)(73,0.0058)(87,0.0058)(96,0.0068)(105,0.0079)(112,0.009)(118,0.0096)(123,0.0091)(128,0.0082)(135,0.0078)(141,0.0077)(146,0.0088)(151,0.01)(157,0.0093)(164,0.0079)(170,0.006)(176,0.0044)(183,0.0022)(190,0.0006)(200,0)(480,0)} --cycle;
\end{axis}
\begin{axis}[panel,pos={8}{8},title={RAB3GAP1}]
\addplot[curve] coordinates {(3,0)(10,0.0003)(20,0.0009)(28,0.0018)(37,0.003)(46,0.0047)(55,0.0065)(61,0.0078)(67,0.0091)(75,0.0108)(82,0.0122)(88,0.0115)(96,0.0101)(102,0.0082)(108,0.0065)(115,0.0057)(123,0.0054)(129,0.006)(135,0.0065)(142,0.0052)(149,0.004)(158,0.003)(167,0.002)(178,0.0014)(188,0.0011)(206,0.0009)(215,0.0004)(224,0)(480,0)} --cycle;
\end{axis}
\begin{axis}[panel,pos={8}{9},title={RAB3GAP2}]
\addplot[curve] coordinates {(3,0)(12,0.0003)(23,0.0009)(34,0.0018)(45,0.003)(52,0.0037)(59,0.0044)(68,0.005)(77,0.0058)(83,0.0065)(89,0.0072)(96,0.0085)(103,0.0096)(110,0.009)(116,0.0082)(123,0.0074)(130,0.0065)(139,0.005)(148,0.0037)(157,0.0033)(165,0.003)(176,0.002)(187,0.0011)(198,0.0004)(210,0)(480,0)} --cycle;
\end{axis}
\begin{axis}[panel,pos={8}{10},title={RARB}]
\addplot[curve] coordinates {(3,0)(15,0.0003)(27,0.0009)(36,0.0015)(44,0.0023)(53,0.0033)(62,0.0044)(71,0.0052)(80,0.0058)(89,0.006)(98,0.0062)(107,0.007)(115,0.0082)(121,0.0098)(127,0.0115)(133,0.0122)(138,0.0115)(143,0.0098)(147,0.0087)(155,0.0055)(163,0.003)(172,0.0027)(181,0.0026)(195,0.003)(208,0.002)(222,0.0026)(234,0.002)(248,0.0023)(255,0.0018)(261,0.0011)(272,0.0004)(284,0)(480,0)} --cycle;
\end{axis}
\begin{axis}[panel,pos={8}{11},title={RAX}]
\addplot[curve] coordinates {(3,0)(3,0.0014)(10,0.0028)(20,0.0042)(30,0.0051)(40,0.0047)(48,0.0042)(57,0.0037)(70,0.0033)(83,0.003)(97,0.0028)(110,0.0026)(125,0.0024)(140,0.0023)(155,0.0028)(172,0.0037)(188,0.0042)(204,0.0044)(215,0.0042)(226,0.0037)(240,0.0028)(252,0.002)(270,0.0013)(288,0.0009)(305,0.0004)(323,0)(480,0)} --cycle;
\end{axis}
% ---------------- Row 9
\begin{axis}[panel,pos={9}{1},yax,title={RAX2}]
\addplot[curve] coordinates {(3,0)(30,0)(42,0.0002)(50,0.0009)(55,0.0025)(61,0.0051)(66,0.0085)(72,0.0108)(78,0.0136)(83,0.0132)(87,0.0122)(93,0.0094)(100,0.008)(108,0.0065)(116,0.0045)(125,0.003)(133,0.0026)(142,0.0026)(150,0.0035)(157,0.0044)(165,0.006)(174,0.0068)(181,0.006)(189,0.0044)(197,0.0022)(206,0.0009)(214,0)(480,0)} --cycle;
\end{axis}
\begin{axis}[panel,pos={9}{2},title={RDH5}]
\addplot[curve] coordinates {(3,0)(10,0.0004)(20,0.001)(28,0.0016)(38,0.0025)(49,0.003)(65,0.0034)(81,0.0037)(97,0.0042)(113,0.0047)(130,0.0053)(145,0.0058)(155,0.0056)(166,0.0054)(182,0.0054)(198,0.0055)(212,0.006)(224,0.0065)(232,0.0062)(241,0.0051)(251,0.0032)(262,0.0016)(272,0.0005)(283,0)(480,0)} --cycle;
\end{axis}
\begin{axis}[panel,pos={9}{3},title={RET}]
\addplot[curve] coordinates {(3,0)(15,0.0006)(27,0.0016)(38,0.0027)(49,0.0037)(60,0.0047)(70,0.0055)(80,0.0062)(91,0.0068)(102,0.007)(113,0.0072)(123,0.0064)(134,0.0051)(145,0.0042)(155,0.0037)(165,0.0042)(174,0.0046)(183,0.0048)(193,0.004)(204,0.003)(215,0.0027)(226,0.0023)(237,0.0016)(247,0.0011)(260,0.0004)(272,0)(480,0)} --cycle;
\end{axis}
\begin{axis}[panel,pos={9}{4},title={RIMS1}]
\addplot[curve] coordinates {(3,0)(15,0.0006)(26,0.0016)(36,0.003)(47,0.0044)(58,0.0056)(69,0.0068)(80,0.0082)(90,0.0094)(97,0.0087)(105,0.0077)(113,0.008)(122,0.0082)(132,0.0068)(143,0.0051)(154,0.0032)(165,0.0016)(180,0.0009)(197,0.0006)(208,0.0007)(218,0.0009)(232,0.001)(245,0.0011)(260,0.0006)(282,0)(480,0)} --cycle;
\end{axis}
\begin{axis}[panel,pos={9}{5},title={RPGR}]
\addplot[curve] coordinates {(3,0)(8,0.0012)(13,0.0025)(19,0.0037)(27,0.0042)(36,0.0044)(47,0.0056)(58,0.0068)(68,0.0063)(79,0.0058)(90,0.0066)(100,0.0072)(111,0.0065)(122,0.0058)(131,0.0058)(139,0.0058)(146,0.0042)(154,0.003)(165,0.0022)(175,0.0016)(190,0.001)(207,0.0006)(250,0.0005)(292,0.0006)(325,0.0005)(356,0.0006)(380,0.0003)(409,0)(480,0)} --cycle;
\end{axis}
\begin{axis}[panel,pos={9}{6},title={RPGRIP1}]
\addplot[curve] coordinates {(3,0)(15,0.0006)(25,0.0013)(35,0.0023)(51,0.004)(67,0.0058)(80,0.0072)(93,0.0077)(107,0.0066)(121,0.0048)(136,0.0038)(152,0.003)(168,0.0024)(184,0.002)(197,0.0017)(210,0.0016)(227,0.0024)(242,0.003)(255,0.0022)(266,0.0016)(284,0.0013)(302,0.0011)(318,0.0008)(334,0.0006)(355,0.0003)(377,0)(480,0)} --cycle;
\end{axis}
\begin{axis}[panel,pos={9}{7},title={SDCCAG8}]
\addplot[curve] coordinates {(3,0)(10,0.0004)(18,0.0012)(25,0.0023)(34,0.0042)(43,0.0065)(52,0.0092)(57,0.0106)(61,0.0111)(67,0.01)(73,0.0091)(80,0.0085)(87,0.0082)(96,0.008)(105,0.0077)(114,0.0065)(123,0.0051)(130,0.0042)(137,0.0037)(144,0.0042)(150,0.0044)(156,0.003)(162,0.0016)(168,0.0006)(175,0.0001)(200,0.0002)(212,0.0006)(221,0)(480,0)} --cycle;
\end{axis}
\begin{axis}[panel,pos={9}{8},title={SEMA4A}]
\addplot[curve] coordinates {(3,0)(10,0.0002)(20,0.0006)(33,0.0013)(46,0.0023)(60,0.004)(73,0.0058)(83,0.0072)(93,0.0086)(103,0.0094)(110,0.0088)(118,0.0072)(126,0.0051)(139,0.0033)(153,0.0023)(166,0.0018)(179,0.0016)(193,0.0021)(206,0.0026)(220,0.0024)(233,0.0023)(246,0.0027)(259,0.003)(270,0.002)(281,0.0011)(292,0.0004)(304,0)(480,0)} --cycle;
\end{axis}
\begin{axis}[panel,pos={9}{9},title={SHH}]
\addplot[curve] coordinates {(3,0)(12,0.0006)(23,0.0016)(36,0.0033)(50,0.0051)(63,0.0063)(77,0.0071)(86,0.0066)(94,0.0058)(107,0.005)(121,0.0044)(138,0.0041)(156,0.004)(174,0.0042)(192,0.0044)(220,0.0046)(245,0.0047)(260,0.0046)(272,0.0044)(286,0.0035)(299,0.0023)(312,0.001)(325,0)(480,0)} --cycle;
\end{axis}
\begin{axis}[panel,pos={9}{10},title={SIX3}]
\addplot[curve] coordinates {(3,0)(15,0.0004)(27,0.0009)(40,0.001)(53,0.0011)(67,0.0016)(80,0.0023)(93,0.0027)(107,0.003)(116,0.0035)(124,0.004)(133,0.005)(142,0.0058)(151,0.0048)(160,0.0037)(167,0.0038)(174,0.0044)(183,0.0055)(192,0.0065)(203,0.0078)(213,0.0082)(222,0.0065)(231,0.0044)(240,0.0028)(249,0.0016)(266,0.0009)(293,0.0006)(311,0)(480,0)} --cycle;
\end{axis}
\begin{axis}[panel,pos={9}{11},title={SIX6}]
\addplot[curve] coordinates {(3,0)(15,0.0003)(30,0.0009)(57,0.0011)(80,0.001)(101,0.0009)(125,0.001)(146,0.0011)(155,0.0015)(163,0.0023)(172,0.0036)(181,0.0051)(190,0.007)(199,0.0087)(206,0.0092)(213,0.0094)(220,0.0087)(226,0.008)(234,0.009)(243,0.0101)(250,0.0093)(258,0.008)(264,0.0062)(270,0.0044)(276,0.0028)(282,0.0016)(290,0.0006)(297,0)(480,0)} --cycle;
\end{axis}
% ---------------- Row 10
\begin{axis}[panel,pos={10}{1},yax,title={SLC24A5}]
\addplot[curve] coordinates {(3,0)(10,0.0004)(18,0.0012)(26,0.0033)(35,0.0054)(40,0.0066)(44,0.0077)(50,0.0095)(57,0.0114)(62,0.013)(67,0.0137)(71,0.012)(76,0.01)(82,0.007)(89,0.0051)(93,0.006)(97,0.0072)(102,0.0075)(108,0.0077)(113,0.009)(119,0.01)(124,0.0085)(129,0.0068)(135,0.0052)(140,0.0044)(145,0.0042)(150,0.0042)(155,0.0025)(160,0.0008)(163,0)(480,0)} --cycle;
\end{axis}
\begin{axis}[panel,pos={10}{2},title={SLC25A1}]
\addplot[curve] coordinates {(3,0)(3,0.002)(10,0.003)(17,0.0035)(28,0.004)(38,0.0035)(49,0.0026)(60,0.003)(71,0.0035)(84,0.0047)(96,0.0056)(104,0.0052)(113,0.004)(124,0.0027)(135,0.0019)(145,0.0026)(156,0.0035)(170,0.0052)(178,0.006)(184,0.0063)(192,0.0058)(205,0.0044)(215,0.0035)(226,0.0026)(234,0.0018)(241,0.0012)(252,0.0004)(263,0)(480,0)} --cycle;
\end{axis}
\begin{axis}[panel,pos={10}{3},title={SLC38A8}]
\addplot[curve] coordinates {(3,0)(10,0.0005)(18,0.0012)(27,0.0026)(38,0.0037)(49,0.0049)(54,0.006)(59,0.0072)(66,0.0082)(74,0.0088)(82,0.0081)(91,0.0069)(102,0.0058)(113,0.0049)(124,0.0044)(134,0.004)(145,0.0041)(155,0.0042)(177,0.0042)(188,0.0038)(198,0.0032)(208,0.0018)(219,0.0007)(234,0)(480,0)} --cycle;
\end{axis}
\begin{axis}[panel,pos={10}{4},title={SLC45A2}]
\addplot[curve] coordinates {(3,0)(15,0.0005)(26,0.0012)(37,0.0022)(47,0.0031)(58,0.0037)(69,0.0042)(80,0.0043)(90,0.0043)(100,0.0047)(111,0.0051)(122,0.0054)(133,0.0058)(142,0.0064)(150,0.0068)(159,0.006)(169,0.0051)(178,0.004)(186,0.0031)(195,0.0029)(203,0.0029)(210,0.0032)(218,0.0035)(226,0.0031)(233,0.0026)(242,0.0018)(250,0.0012)(260,0.0005)(271,0)(480,0)} --cycle;
\end{axis}
\begin{axis}[panel,pos={10}{5},title={SNAI2}]
\addplot[curve] coordinates {(3,0)(50,0)(58,0.0003)(63,0.0015)(68,0.0035)(73,0.0048)(79,0.0058)(84,0.008)(90,0.0114)(93,0.015)(96,0.0188)(99,0.024)(102,0.0285)(104,0.0299)(106,0.0285)(109,0.024)(113,0.0188)(117,0.018)(121,0.0179)(124,0.015)(126,0.011)(129,0.006)(132,0.0025)(136,0)(480,0)} --cycle;
\end{axis}
\begin{axis}[panel,pos={10}{6},title={SNX3}]
\addplot[curve] coordinates {(3,0)(10,0.0006)(18,0.0015)(25,0.0026)(33,0.004)(40,0.0054)(48,0.0068)(57,0.0075)(66,0.0072)(74,0.0068)(82,0.0062)(89,0.0058)(96,0.006)(103,0.0063)(110,0.006)(116,0.0054)(123,0.0063)(131,0.0072)(139,0.0068)(146,0.0063)(152,0.0066)(159,0.0072)(166,0.0062)(174,0.0049)(180,0.003)(185,0.0012)(190,0)(480,0)} --cycle;
\end{axis}
\begin{axis}[panel,pos={10}{7},title={SOX10}]
\addplot[curve] coordinates {(3,0)(12,0.0008)(25,0.0021)(38,0.0035)(52,0.0049)(64,0.0058)(77,0.0065)(86,0.006)(96,0.0051)(108,0.0042)(119,0.0035)(135,0.0033)(150,0.0031)(167,0.0029)(185,0.0026)(205,0.0021)(226,0.0015)(240,0.0016)(256,0.0019)(270,0.0026)(283,0.0029)(294,0.0026)(304,0.0021)(315,0.0009)(327,0)(480,0)} --cycle;
\end{axis}
\begin{axis}[panel,pos={10}{8},title={SOX2}]
\addplot[curve] coordinates {(3,0)(40,0)(55,0.0003)(68,0.0005)(82,0.0007)(100,0.0007)(117,0.0009)(135,0.0005)(153,0.0005)(162,0.0012)(171,0.0021)(180,0.0042)(188,0.0058)(197,0.0066)(206,0.0072)(213,0.0078)(220,0.0083)(227,0.0078)(233,0.0075)(240,0.0078)(245,0.0081)(251,0.0087)(256,0.0091)(262,0.0078)(268,0.0058)(275,0.004)(281,0.0026)(288,0.0014)(295,0.0007)(313,0)(480,0)} --cycle;
\end{axis}
\begin{axis}[panel,pos={10}{9},xax,title={SOX3}]
\addplot[curve] coordinates {(3,0)(12,0.0007)(23,0.0017)(34,0.0028)(45,0.004)(56,0.0052)(68,0.0063)(80,0.0068)(87,0.0065)(94,0.0058)(105,0.0047)(116,0.0035)(128,0.0026)(139,0.0021)(152,0.0022)(165,0.0026)(176,0.0025)(187,0.0021)(203,0.0016)(219,0.0012)(235,0.0015)(250,0.0021)(258,0.0023)(270,0.0022)(290,0.0014)(305,0.001)(317,0.0007)(330,0.0003)(343,0)(480,0)} --cycle;
\end{axis}
\begin{axis}[panel,pos={10}{10},xax,title={STRA6}]
\addplot[curve] coordinates {(3,0)(3,0.0003)(9,0.0017)(18,0.0034)(27,0.0049)(35,0.006)(44,0.0068)(57,0.0075)(71,0.008)(80,0.0079)(89,0.0077)(98,0.0075)(107,0.0072)(116,0.0069)(124,0.0065)(131,0.0055)(139,0.0044)(145,0.0028)(151,0.0017)(160,0.0016)(169,0.0017)(180,0.0016)(192,0.0014)(202,0.0006)(213,0)(480,0)} --cycle;
\end{axis}
\begin{axis}[panel,pos={10}{11},xax,xticklabels={0,100,200,300,400,\hspace*{-8bp}500},title={TENM3}]
\addplot[curve] coordinates {(3,0)(12,0.0004)(21,0.0012)(34,0.0023)(48,0.0035)(58,0.0034)(69,0.0032)(80,0.0035)(92,0.0038)(104,0.004)(115,0.0042)(123,0.0048)(131,0.0058)(141,0.0072)(151,0.008)(158,0.0072)(165,0.006)(172,0.0049)(185,0.0035)(199,0.0026)(208,0.0027)(217,0.0026)(225,0.0015)(234,0.0007)(261,0.0005)(290,0.0004)(306,0.0003)(332,0)(480,0)} --cycle;
\end{axis}
% ---------------- Row 11
\begin{axis}[panel,pos={11}{1},yax,xax,title={TMEM98}]
\addplot[curve] coordinates {(3,0)(20,0.0001)(30,0.0006)(40,0.0015)(50,0.0028)(60,0.0045)(70,0.007)(79,0.0098)(86,0.0108)(93,0.0122)(102,0.0134)(108,0.0125)(117,0.0101)(125,0.0088)(133,0.0075)(141,0.007)(148,0.0058)(155,0.0044)(162,0.002)(169,0.0004)(178,0.0003)(190,0.0015)(198,0.0019)(205,0.0009)(212,0)(480,0)} --cycle;
\end{axis}
\begin{axis}[panel,pos={11}{2},xax,title={TRIM32}]
\addplot[curve] coordinates {(3,0)(80,0)(88,0.001)(96,0.0035)(103,0.006)(110,0.008)(117,0.0089)(124,0.0075)(132,0.0055)(140,0.0045)(146,0.0044)(152,0.006)(158,0.0085)(164,0.011)(170,0.0121)(176,0.011)(182,0.0095)(188,0.009)(194,0.0089)(200,0.0078)(206,0.0068)(212,0.0058)(218,0.0047)(225,0.003)(232,0.0015)(238,0.0005)(245,0)(480,0)} --cycle;
\end{axis}
\begin{axis}[panel,pos={11}{3},xax,title={TTC8}]
\addplot[curve] coordinates {(3,0)(15,0.0003)(22,0.0008)(27,0.0015)(33,0.0027)(38,0.0033)(44,0.0025)(50,0.0018)(55,0.002)(62,0.0035)(70,0.0052)(76,0.0078)(81,0.0098)(86,0.0097)(91,0.0094)(97,0.011)(103,0.0128)(106,0.0131)(110,0.012)(115,0.0102)(119,0.0089)(126,0.007)(134,0.0052)(141,0.0046)(149,0.0044)(158,0.0044)(166,0.0047)(174,0.0037)(183,0.0024)(190,0.001)(198,0)(480,0)} --cycle;
\end{axis}
\begin{axis}[panel,pos={11}{4},xax,title={TTLL5}]
\addplot[curve] coordinates {(3,0)(15,0.0004)(26,0.001)(37,0.002)(47,0.0033)(58,0.0048)(69,0.0059)(80,0.0055)(90,0.0044)(98,0.0043)(105,0.0044)(116,0.0055)(126,0.0065)(138,0.0069)(150,0.007)(160,0.0063)(169,0.0052)(180,0.0038)(190,0.0029)(204,0.0026)(218,0.0024)(235,0.002)(250,0.0017)(266,0.0016)(282,0.0015)(293,0.001)(304,0.0006)(324,0)(480,0)} --cycle;
\end{axis}
\begin{axis}[panel,pos={11}{5},xax,title={UNC119}]
\addplot[curve] coordinates {(3,0)(10,0.0002)(20,0.0005)(36,0.0015)(52,0.0022)(68,0.0029)(84,0.0036)(100,0.0043)(113,0.0048)(126,0.0052)(142,0.0057)(158,0.0061)(172,0.0053)(186,0.0043)(198,0.0033)(211,0.0024)(223,0.0014)(235,0.0008)(248,0.001)(260,0.0015)(276,0.0027)(292,0.0038)(302,0.003)(313,0.0019)(324,0.0007)(335,0)(480,0)} --cycle;
\end{axis}
\begin{axis}[panel,pos={11}{6},xax,title={VAX1}]
\addplot[curve] coordinates {(3,0)(3,0.0019)(10,0.0035)(18,0.005)(25,0.0056)(32,0.0052)(39,0.0044)(46,0.0038)(56,0.0032)(67,0.0029)(78,0.003)(89,0.0033)(100,0.004)(110,0.0045)(125,0.0045)(142,0.0043)(152,0.0038)(163,0.0033)(174,0.0028)(185,0.0024)(195,0.0023)(206,0.0024)(217,0.0023)(227,0.0019)(237,0.0012)(248,0.0007)(264,0.0003)(280,0)(480,0)} --cycle;
\end{axis}
\begin{axis}[panel,pos={11}{7},xax,title={VSX2}]
\addplot[curve] coordinates {(3,0)(12,0.0004)(20,0.001)(25,0.0015)(34,0.004)(43,0.007)(49,0.0088)(55,0.0103)(63,0.011)(70,0.0112)(75,0.0108)(81,0.0098)(87,0.0089)(94,0.0072)(101,0.0061)(107,0.007)(114,0.008)(120,0.0068)(128,0.0052)(135,0.0046)(141,0.0044)(147,0.0053)(153,0.0061)(160,0.0048)(167,0.0029)(176,0.0011)(185,0)(480,0)} --cycle;
\end{axis}
\begin{axis}[panel,pos={11}{8},xax,title={ZEB2}]
\addplot[curve] coordinates {(3,0)(10,0.0002)(20,0.0006)(30,0.0014)(41,0.0024)(52,0.0031)(64,0.0038)(77,0.0045)(91,0.0052)(100,0.0053)(108,0.0052)(117,0.006)(126,0.007)(135,0.0076)(144,0.0082)(153,0.0086)(160,0.0075)(167,0.0061)(176,0.0052)(185,0.0047)(191,0.0036)(197,0.0024)(206,0.0012)(215,0.0006)(230,0.0005)(242,0.0006)(260,0.0008)(277,0.001)(290,0.0008)(304,0.0006)(322,0)(480,0)} --cycle;
\end{axis}
% ---------------- axis titles
\node[font=\fontsize{11bp}{13bp}\selectfont, rotate=90] at (13.2bp,-571bp) {density};
\node[font=\fontsize{11bp}{13bp}\selectfont] at (597.5bp,-1139.5bp) {Read\_Depth};
\end{tikzpicture}
\end{document}
